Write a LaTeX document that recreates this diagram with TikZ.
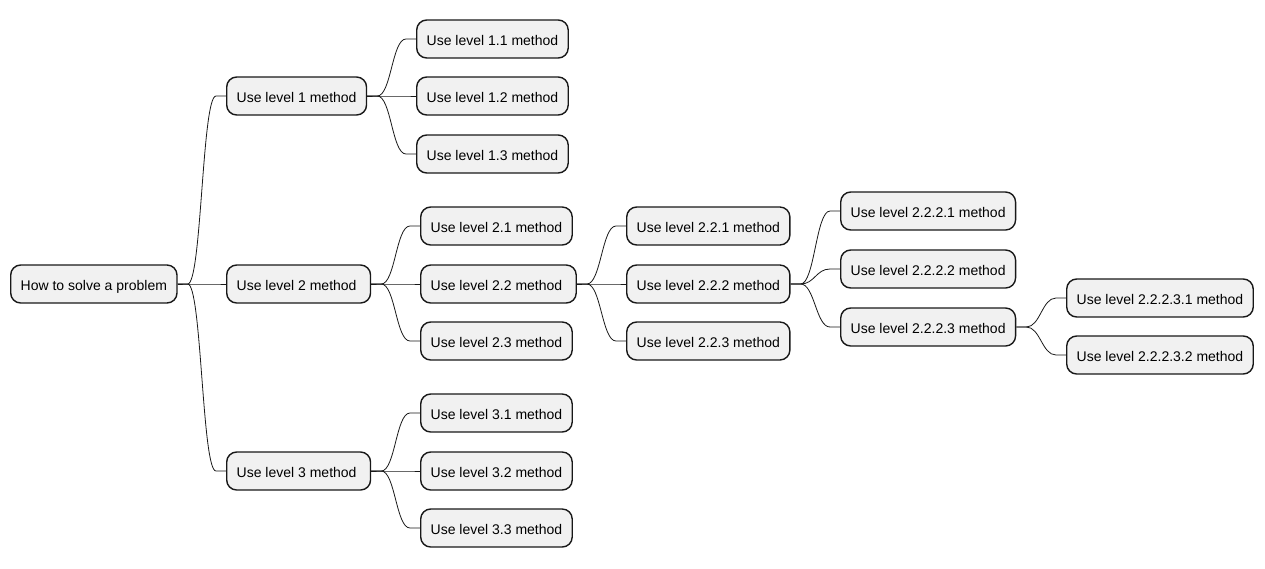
\documentclass[tikz,border=0pt]{standalone}
\usepackage{fontspec}
\setmainfont{Liberation Sans}
\usepackage{xcolor}
\usetikzlibrary{calc}
\definecolor{fondo}{HTML}{F1F1F1}
\definecolor{borde}{HTML}{181818}

\begin{document}
\begin{tikzpicture}[x=1pt, y=-1pt,
			 tema/.style={draw=borde, fill=fondo, line width=1.4pt, rounded corners=10pt, minimum height=38pt, inner xsep=10pt, inner ysep=0pt, text height=12pt, text depth=0pt, anchor=west, font=\fontsize{14pt}{16pt}\selectfont},
			 rama/.style={draw=borde, line width=0.8pt, to path={-- ++(10,0) .. controls +(14,0) and +(-14,0) .. ($(\tikztotarget)+(-10,0)$) -- (\tikztotarget)}}
  		]
	\useasboundingbox (0,0) rectangle (1265,568);

	%Creamos los temas

		\node[tema] (raiz) at (10,284) {How to solve a problem};
		\node[tema] (n1) at (226,96) {Use level 1 method};
		\node[tema] (n2) at (226,284) {Use level 2 method\kern4pt};
		\node[tema] (n3) at (226,471) {Use level 3 method\kern4pt};
	%Nivel 1
		\node[tema] (n11) at (416,39) {Use level 1.1 method};
		\node[tema] (n12) at (416,96) {Use level 1.2 method};
		\node[tema] (n13) at (416,154) {Use level 1.3 method};
	%Nivel 2
		\node[tema] (n21) at (420,226) {Use level 2.1 method};
		\node[tema] (n22) at (420,284) {Use level 2.2 method\kern4pt};
		\node[tema] (n23) at (420,341) {Use level 2.3 method};
		\node[tema] (n221) at (626,226) {Use level 2.2.1 method};
		\node[tema] (n222) at (626,284) {Use level 2.2.2 method};
		\node[tema] (n223) at (626,341) {Use level 2.2.3 method};
		\node[tema] (n2221) at (840,211) {Use level 2.2.2.1 method};
		\node[tema] (n2222) at (840,269) {Use level 2.2.2.2 method};
		\node[tema] (n2223) at (840,327) {Use level 2.2.2.3 method};
		\node[tema] (n22231) at (1066,298) {Use level 2.2.2.3.1 method};
		\node[tema] (n22232) at (1066,355) {Use level 2.2.2.3.2 method};
	%Nivel 3
		\node[tema] (n31) at (420,413) {Use level 3.1 method};
		\node[tema] (n32) at (420,471) {Use level 3.2 method};
		\node[tema] (n33) at (420,528) {Use level 3.3 method};

	%Ramas de la raiz
		\draw[rama] (raiz.east) to (n1.west);
		\draw[rama] (raiz.east) to (n2.west);
		\draw[rama] (raiz.east) to (n3.west);
	%Ramas de n1
		\draw[rama] (n1.east) to (n11.west);
		\draw[rama] (n1.east) to (n12.west);
		\draw[rama] (n1.east) to (n13.west);
	%Ramas de n2
		\draw[rama] (n2.east) to (n21.west);
		\draw[rama] (n2.east) to (n22.west);
		\draw[rama] (n2.east) to (n23.west);
		\draw[rama] (n22.east) to (n221.west);
		\draw[rama] (n22.east) to (n222.west);
		\draw[rama] (n22.east) to (n223.west);
		\draw[rama] (n222.east) to (n2221.west);
		\draw[rama] (n222.east) to (n2222.west);
		\draw[rama] (n222.east) to (n2223.west);
		\draw[rama] (n2223.east) to (n22231.west);
		\draw[rama] (n2223.east) to (n22232.west);
	%Ramas de n3
		\draw[rama] (n3.east) to (n31.west);
		\draw[rama] (n3.east) to (n32.west);
		\draw[rama] (n3.east) to (n33.west);

	\end{tikzpicture}
\end{document}
